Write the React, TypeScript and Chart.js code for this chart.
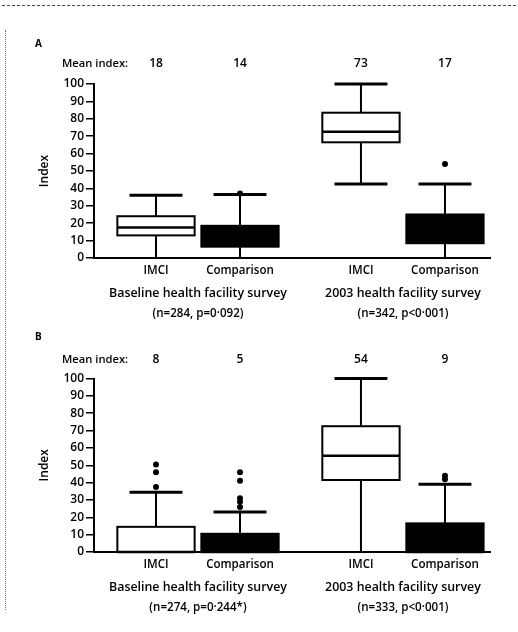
import React, { useEffect, useRef } from "react";
import { Chart, registerables } from "chart.js";

Chart.register(...registerables);

// Categories
const arms = ["IMCI", "Comparison"];
const surveys = ["Baseline health facility survey", "2003 health facility survey"];
const indexTicks = [0, 10, 20, 30, 40, 50, 60, 70, 80, 90, 100];

// Panel A — order: IMCI baseline, Comparison baseline, IMCI 2003, Comparison 2003
const meanA = [18, 14, 73, 17];
const minA = [0, 0, 42.5, 0];
const q1A = [13, 6.5, 66.5, 8.5];
const medianA = [17.5, 12, 72.5, 16];
const q3A = [24, 18.5, 83.5, 25];
const maxA = [36, 36.5, 100, 42.5];
const outliersA: number[][] = [[], [37], [], [54]];
const statsA = ["(n=284, p=0·092)", "(n=342, p<0·001)"];

// Panel B
const meanB = [8, 5, 54, 9];
const minB = [0, 0, 0, 0];
const q1B = [0, 0, 41.5, 0];
const medianB = [0, 0, 55.5, 0];
const q3B = [14.5, 10.5, 72.5, 16.5];
const maxB = [34.5, 23, 100, 39];
const outliersB: number[][] = [[37.5, 46, 50.5], [26, 29, 31, 41, 46], [], [42, 44]];
const statsB = ["(n=274, p=0·244*)", "(n=333, p<0·001)"];

const FONT = "'Open Sans', 'DejaVu Sans', sans-serif";
const INK = "#000";
const WEIGHT = "600";
const ARM_FILL = ["#ffffff", "#000000"];

// x layout: one unit between arms within a survey, wider gap between surveys
const X_START = 0.738;
const GROUP_STRIDE = 2.44;
const X_MAX = 4.714;
const BOX_HALF = 0.46;
const CAP_HALF = 0.315;
const xPos = (i: number) => X_START + Math.floor(i / 2) * GROUP_STRIDE + (i % 2);

type Panel = {
  letter: string;
  mean: number[];
  min: number[];
  q1: number[];
  median: number[];
  q3: number[];
  max: number[];
  outliers: number[][];
  stats: string[];
  height: number;
  areaTop: number;
  areaBottom: number;
  letterY: number;
  meanY: number;
};

const panels: Panel[] = [
  {
    letter: "A", mean: meanA, min: minA, q1: q1A, median: medianA, q3: q3A, max: maxA,
    outliers: outliersA, stats: statsA,
    height: 322, areaTop: 84, areaBottom: 258, letterY: 47, meanY: 66.5,
  },
  {
    letter: "B", mean: meanB, min: minB, q1: q1B, median: medianB, q3: q3B, max: maxB,
    outliers: outliersB, stats: statsB,
    height: 310, areaTop: 56.5, areaBottom: 230, letterY: 18, meanY: 41,
  },
];

function makeBoxPlugin(p: Panel) {
  return {
    id: "boxes",
    beforeDatasetsDraw(chart: any) {
      const { ctx, scales } = chart;
      const x = scales.x;
      const y = scales.y;
      ctx.save();
      ctx.strokeStyle = "#000";
      p.q1.forEach((_, i) => {
        const v = xPos(i);
        const cx = x.getPixelForValue(v);
        const half = x.getPixelForValue(v + BOX_HALF) - cx;
        const capHalf = x.getPixelForValue(v + CAP_HALF) - cx;
        const yMin = y.getPixelForValue(p.min[i]);
        const yQ1 = y.getPixelForValue(p.q1[i]);
        const yMed = y.getPixelForValue(p.median[i]);
        const yQ3 = y.getPixelForValue(p.q3[i]);
        const yMax = y.getPixelForValue(p.max[i]);

        // whiskers
        ctx.lineWidth = 2;
        ctx.beginPath();
        ctx.moveTo(cx, yQ3);
        ctx.lineTo(cx, yMax);
        ctx.moveTo(cx, yQ1);
        ctx.lineTo(cx, yMin);
        ctx.stroke();

        // caps
        ctx.lineWidth = 3;
        ctx.beginPath();
        ctx.moveTo(cx - capHalf, yMax);
        ctx.lineTo(cx + capHalf, yMax);
        if (p.min[i] > 0) {
          ctx.moveTo(cx - capHalf, yMin);
          ctx.lineTo(cx + capHalf, yMin);
        }
        ctx.stroke();

        // box
        ctx.fillStyle = ARM_FILL[i % 2];
        ctx.fillRect(cx - half, yQ3, half * 2, yQ1 - yQ3);
        ctx.lineWidth = 2;
        ctx.strokeRect(cx - half, yQ3, half * 2, yQ1 - yQ3);

        // median
        ctx.lineWidth = 2.5;
        ctx.beginPath();
        ctx.moveTo(cx - half, yMed);
        ctx.lineTo(cx + half, yMed);
        ctx.stroke();
      });
      ctx.restore();
    },
    afterDraw(chart: any) {
      const { ctx, scales, chartArea } = chart;
      const x = scales.x;
      ctx.save();
      ctx.fillStyle = INK;
      ctx.textBaseline = "alphabetic";
      ctx.textAlign = "left";
      ctx.font = `bold 10px ${FONT}`;
      ctx.fillText(p.letter, 35, p.letterY);

      ctx.font = `${WEIGHT} 11.2px ${FONT}`;
      ctx.fillText("Mean index:", 62, p.meanY);
      ctx.font = `${WEIGHT} 12px ${FONT}`;
      ctx.textAlign = "center";
      p.mean.forEach((m, i) => {
        ctx.fillText(String(m), x.getPixelForValue(xPos(i)), p.meanY);
      });

      surveys.forEach((s, g) => {
        const cx = (x.getPixelForValue(xPos(2 * g)) + x.getPixelForValue(xPos(2 * g + 1))) / 2;
        ctx.font = `${WEIGHT} 12.4px ${FONT}`;
        ctx.fillText(s, cx, chartArea.bottom + 39);
        ctx.font = `${WEIGHT} 11.6px ${FONT}`;
        ctx.fillText(p.stats[g], cx, chartArea.bottom + 59);
      });
      ctx.restore();
    },
  };
}

function BoxPanel({ panel, top }: { panel: Panel; top: number }) {
  const ref = useRef<HTMLCanvasElement | null>(null);

  useEffect(() => {
    if (!ref.current) return;
    const points = panel.outliers.flatMap((vals, i) => vals.map((v) => ({ x: xPos(i), y: v })));
    const chart = new Chart(ref.current, {
      type: "scatter",
      data: {
        datasets: [
          {
            label: "Outliers",
            data: points,
            pointRadius: 3,
            pointBackgroundColor: "#000",
            pointBorderWidth: 0,
            clip: false as any,
          },
        ],
      },
      options: {
        animation: false,
        responsive: false,
        maintainAspectRatio: false,
        devicePixelRatio: 1,
        events: [],
        layout: {
          padding: { top: panel.areaTop, left: 0, right: 28, bottom: 0 },
        },
        plugins: {
          legend: { display: false },
          tooltip: { enabled: false },
        },
        scales: {
          x: {
            type: "linear",
            min: 0,
            max: X_MAX,
            afterBuildTicks: (s: any) => {
              s.ticks = panel.mean.map((_, i) => ({ value: xPos(i) }));
            },
            afterFit: (s: any) => {
              s.height = panel.height - panel.areaBottom;
              s.paddingLeft = 0;
              s.paddingRight = 0;
            },
            ticks: {
              callback: (_v: any, i: number) => arms[i % 2],
              autoSkip: false,
              maxRotation: 0,
              minRotation: 0,
              padding: 6,
              color: INK,
              font: { family: FONT, size: 11.6, weight: WEIGHT },
            },
            grid: { display: true, drawOnChartArea: false, drawTicks: false },
            border: { display: true, color: "#000", width: 2 },
          },
          y: {
            type: "linear",
            min: 0,
            max: 100,
            afterBuildTicks: (s: any) => {
              s.ticks = indexTicks.map((v) => ({ value: v }));
            },
            afterFit: (s: any) => {
              s.width = 94;
              s.paddingTop = 0;
              s.paddingBottom = 0;
            },
            ticks: {
              autoSkip: false,
              color: INK,
              padding: 2,
              font: { family: FONT, size: 12, weight: WEIGHT },
            },
            grid: {
              display: true,
              drawOnChartArea: false,
              drawTicks: true,
              tickLength: 8,
              color: "#000",
              lineWidth: 1.5,
            },
            border: { display: true, color: "#000", width: 2 },
            title: {
              display: true,
              text: "Index",
              color: INK,
              font: { family: FONT, size: 12, weight: WEIGHT },
              padding: { top: 37, bottom: 0 },
            },
          },
        },
      },
      plugins: [makeBoxPlugin(panel)],
    });
    return () => chart.destroy();
  }, [panel]);

  return (
    <canvas
      ref={ref}
      width={518}
      height={panel.height}
      style={{ position: "absolute", left: 0, top, width: 518, height: panel.height }}
    />
  );
}

export default function App() {
  return (
    <div
      style={{
        position: "absolute",
        left: 0,
        top: 0,
        width: 518,
        height: 632,
        background: "#fff",
        overflow: "hidden",
      }}
    >
      <BoxPanel panel={panels[0]} top={0} />
      <BoxPanel panel={panels[1]} top={panels[0].height} />
      {/* page rules */}
      <div style={{ position: "absolute", left: 2, top: 5, width: 514, borderTop: "1px dashed #444" }} />
      <div style={{ position: "absolute", left: 5, top: 30, height: 580, borderLeft: "1px dotted #777" }} />
    </div>
  );
}
